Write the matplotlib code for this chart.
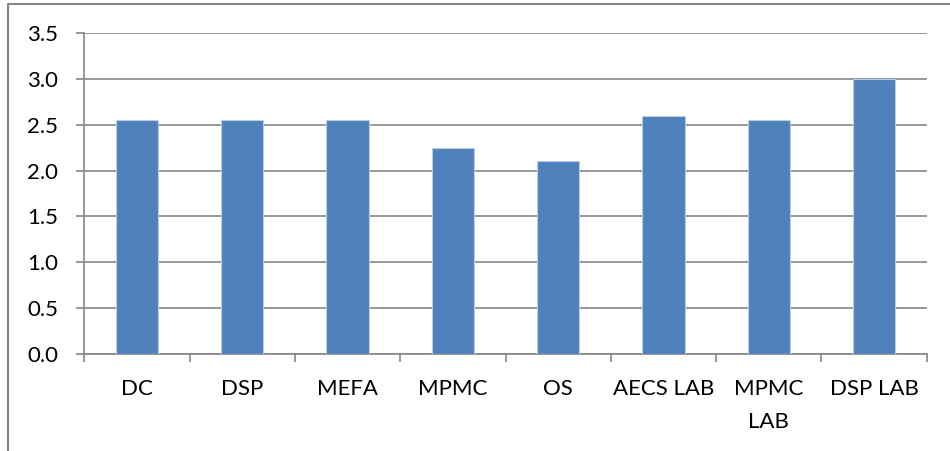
import matplotlib
matplotlib.use("Agg")
import matplotlib.pyplot as plt
from matplotlib.lines import Line2D

categories = ["DC", "DSP", "MEFA", "MPMC", "OS", "AECS LAB", "MPMC\nLAB", "DSP LAB"]
values = [2.55, 2.55, 2.55, 2.25, 2.10, 2.60, 2.55, 3.00]
yticks = [0.0, 0.5, 1.0, 1.5, 2.0, 2.5, 3.0, 3.5]

plt.rcParams["font.family"] = ["Lato", "DejaVu Sans"]

W, H = 950, 451
fig = plt.figure(figsize=(W / 100, H / 100), dpi=100)
ax = fig.add_axes([84.3 / W, 1 - 353.5 / H, (926.7 - 84.3) / W, (353.5 - 33.3) / H])

grey = "#868686"
x = range(len(categories))
ax.bar(x, values, width=0.4, color="#4F81BD", edgecolor="#B9CDE5", linewidth=0.8, zorder=3)

ax.set_xlim(-0.5, len(categories) - 0.5)
ax.set_ylim(0, 3.5)
ax.set_yticks(yticks)
ax.set_yticklabels([f"{v:.1f}" for v in yticks])
ax.set_xticks(list(x))
ax.set_xticklabels(categories, linespacing=1.8)
ax.set_xticks([i - 0.5 for i in range(len(categories) + 1)], minor=True)

ax.grid(axis="y", color=grey, linewidth=1.2, zorder=0)
ax.set_axisbelow(True)

for side in ("top", "right"):
    ax.spines[side].set_visible(False)
for side in ("left", "bottom"):
    ax.spines[side].set_color(grey)
    ax.spines[side].set_linewidth(1.2)

ax.tick_params(axis="y", length=5.8, width=1.2, color=grey, pad=13, labelsize=16)
ax.tick_params(axis="x", which="major", length=0, pad=18.5, labelsize=16)
ax.tick_params(axis="x", which="minor", length=5.8, width=1.2, color=grey)

# outer chart frame (left and top edges)
fx = 8 / W
fy = 1 - 4 / H
fig.add_artist(Line2D([fx, fx, 1.0], [0.0, fy, fy], color=grey, linewidth=1.5,
                      transform=fig.transFigure))

fig.savefig("out.png", dpi=100, facecolor="white")
